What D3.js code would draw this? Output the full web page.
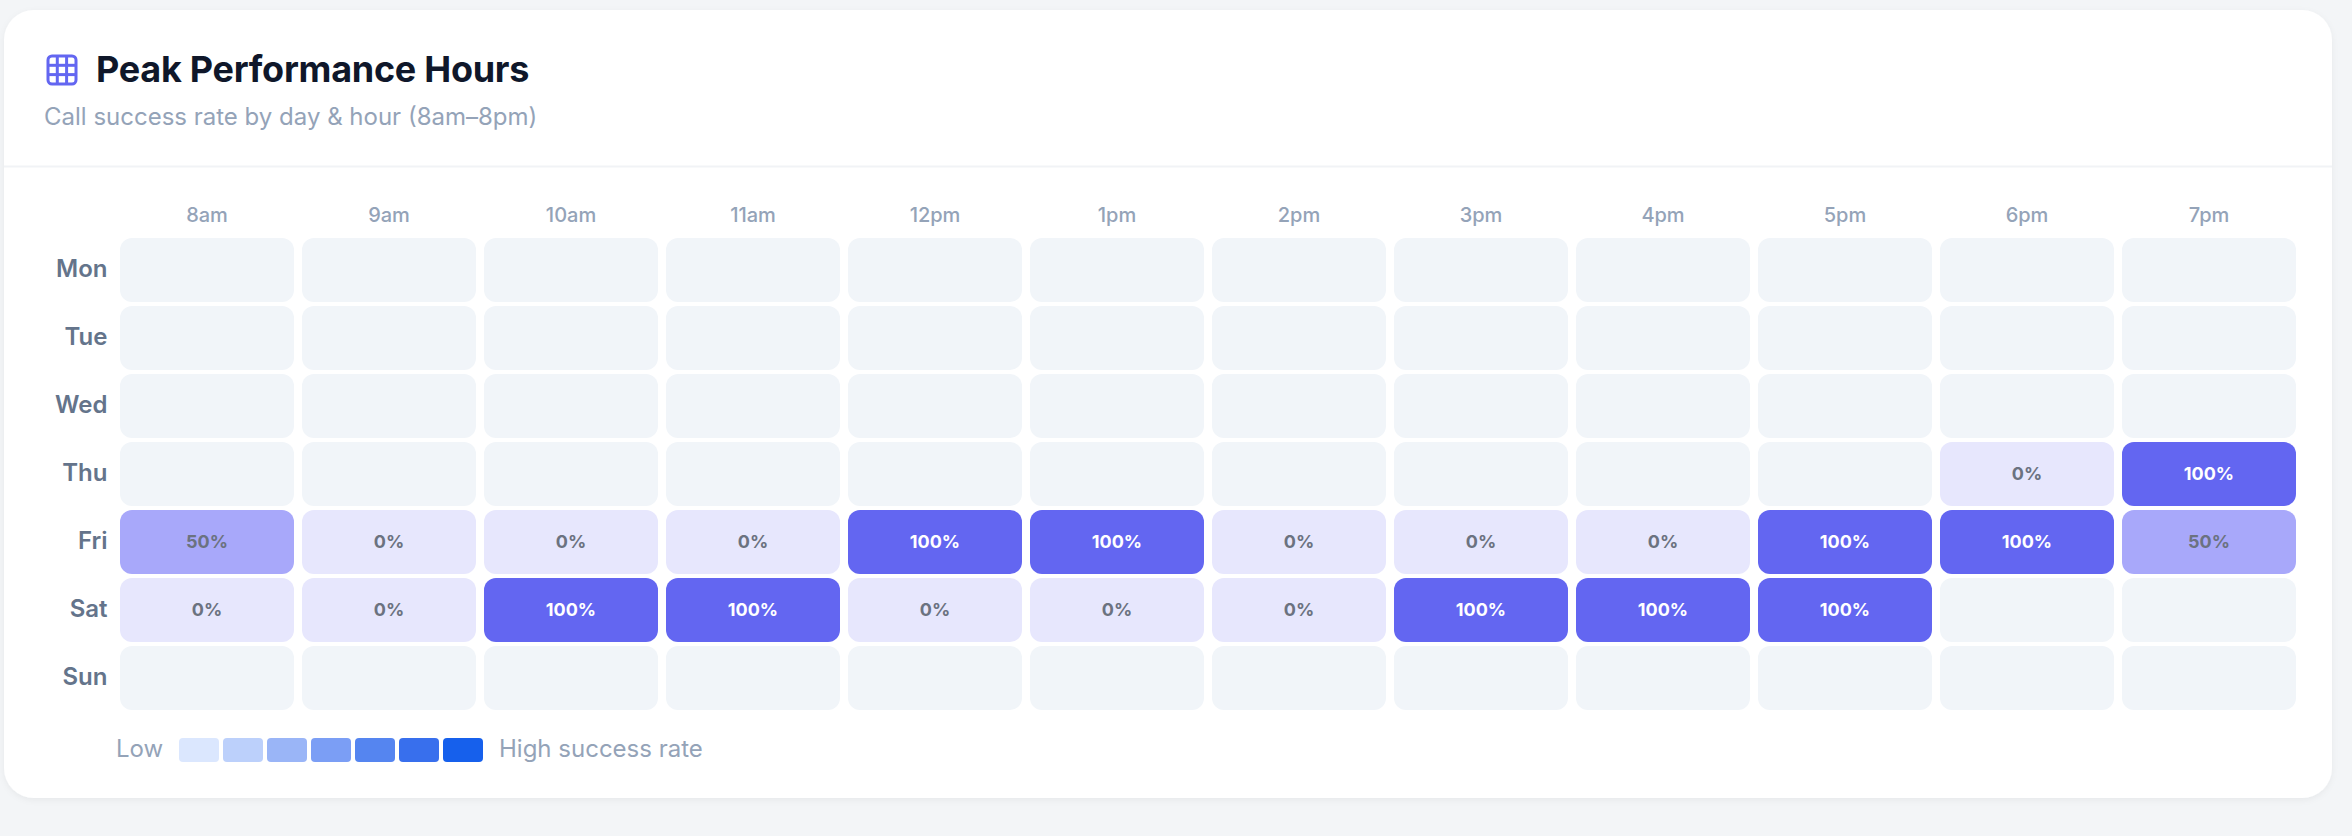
<!DOCTYPE html>
<html><head><meta charset="utf-8">
<script src="https://cdn.jsdelivr.net/npm/d3@7"></script>
<style>html,body{margin:0;padding:0;background:#f3f5f7;overflow:hidden}svg{display:block}text{font-family:Inter,sans-serif}</style>
</head><body><svg id="c" width="2352" height="836"></svg>
<script>
const hours = ["8am","9am","10am","11am","12pm","1pm","2pm","3pm","4pm","5pm","6pm","7pm"];
const days = ["Mon","Tue","Wed","Thu","Fri","Sat","Sun"];
const rates = {
  Mon: [null,null,null,null,null,null,null,null,null,null,null,null],
  Tue: [null,null,null,null,null,null,null,null,null,null,null,null],
  Wed: [null,null,null,null,null,null,null,null,null,null,null,null],
  Thu: [null,null,null,null,null,null,null,null,null,null,0,100],
  Fri: [50,0,0,0,100,100,0,0,0,100,100,50],
  Sat: [0,0,100,100,0,0,0,100,100,100,null,null],
  Sun: [null,null,null,null,null,null,null,null,null,null,null,null]
};
const legendSteps = ["#dbe7fe","#bcd0fb","#9ab5f7","#7b9ef5","#5585f0","#386fed","#1660ec"];

const svg = d3.select("#c");
const defs = svg.append("defs");
const f = defs.append("filter").attr("id","sh").attr("x","-2%").attr("y","-2%").attr("width","104%").attr("height","105%");
f.append("feDropShadow").attr("dx",0).attr("dy",2).attr("stdDeviation",3).attr("flood-color","#0f172a").attr("flood-opacity",0.05);

svg.append("rect").attr("x",4).attr("y",10).attr("width",2328).attr("height",788).attr("rx",30).attr("fill","#fff").attr("filter","url(#sh)");
svg.append("rect").attr("x",4).attr("y",165.5).attr("width",2328).attr("height",2).attr("fill","#f1f3f6");

// header icon
const icon = svg.append("g").attr("fill","none").attr("stroke","#6366f1").attr("stroke-width",3);
icon.append("rect").attr("x",48).attr("y",56).attr("width",28).attr("height",28).attr("rx",4);
[0,1].forEach(i=>{
  icon.append("line").attr("x1",48).attr("x2",76).attr("y1",65.3+i*9.3).attr("y2",65.3+i*9.3);
  icon.append("line").attr("y1",56).attr("y2",84).attr("x1",57.3+i*9.3).attr("x2",57.3+i*9.3);
});
svg.append("text").attr("x",96).attr("y",82).attr("font-size",36).attr("font-weight",700).attr("letter-spacing",-0.27).attr("fill","#0f172a").text("Peak Performance Hours");
svg.append("text").attr("x",44).attr("y",125).attr("font-size",24).attr("fill","#94a3b8").text("Call success rate by day & hour (8am\u20138pm)");

const x = d3.scaleBand().domain(hours).range([120,2296]).paddingInner(8/182);
const y = d3.scaleBand().domain(days).range([238,710]).paddingInner(4/68);
const color = d3.scaleLinear().domain([0,50,100]).range(["#e7e7fd","#a8a8fa","#6366f1"]);

const xAxis = svg.append("g").attr("transform","translate(0,221.5)").call(d3.axisTop(x).tickSize(0).tickPadding(0));
xAxis.select(".domain").remove();
xAxis.selectAll("text").attr("font-family","Inter,sans-serif").attr("font-size",20).attr("font-weight",500).attr("fill","#94a3b8").attr("dy",0);

const yAxis = svg.append("g").attr("transform","translate(107.5,-0.5)").call(d3.axisLeft(y).tickSize(0).tickPadding(0));
yAxis.select(".domain").remove();
yAxis.selectAll("text").attr("font-family","Inter,sans-serif").attr("font-size",24).attr("font-weight",600).attr("fill","#64748b");

const cells = days.flatMap(d=>hours.map((h,i)=>({d,h,v:rates[d][i]})));
svg.append("g").selectAll("rect").data(cells).join("rect")
  .attr("x",c=>x(c.h)).attr("y",c=>y(c.d)).attr("width",x.bandwidth()).attr("height",y.bandwidth()).attr("rx",12)
  .attr("fill",c=>c.v===null?"#f1f5f9":color(c.v));
svg.append("g").selectAll("text").data(cells.filter(c=>c.v!==null)).join("text")
  .attr("x",c=>x(c.h)+x.bandwidth()/2).attr("y",c=>y(c.d)+y.bandwidth()/2).attr("dy","0.36em")
  .attr("text-anchor","middle").attr("font-size",18).attr("font-weight",700)
  .attr("fill",c=>c.v===100?"#fff":"#6b7280").text(c=>c.v+"%");

const lx = d3.scaleBand().domain(legendSteps).range([179,483]).paddingInner(4/44);
svg.append("g").selectAll("rect").data(legendSteps).join("rect")
  .attr("x",d=>lx(d)).attr("y",738).attr("width",lx.bandwidth()).attr("height",24).attr("rx",4).attr("fill",d=>d);
svg.append("text").attr("x",116).attr("y",757).attr("font-size",24).attr("fill","#94a3b8").text("Low");
svg.append("text").attr("x",499).attr("y",757).attr("font-size",24).attr("fill","#94a3b8").text("High success rate");
</script></body></html>
